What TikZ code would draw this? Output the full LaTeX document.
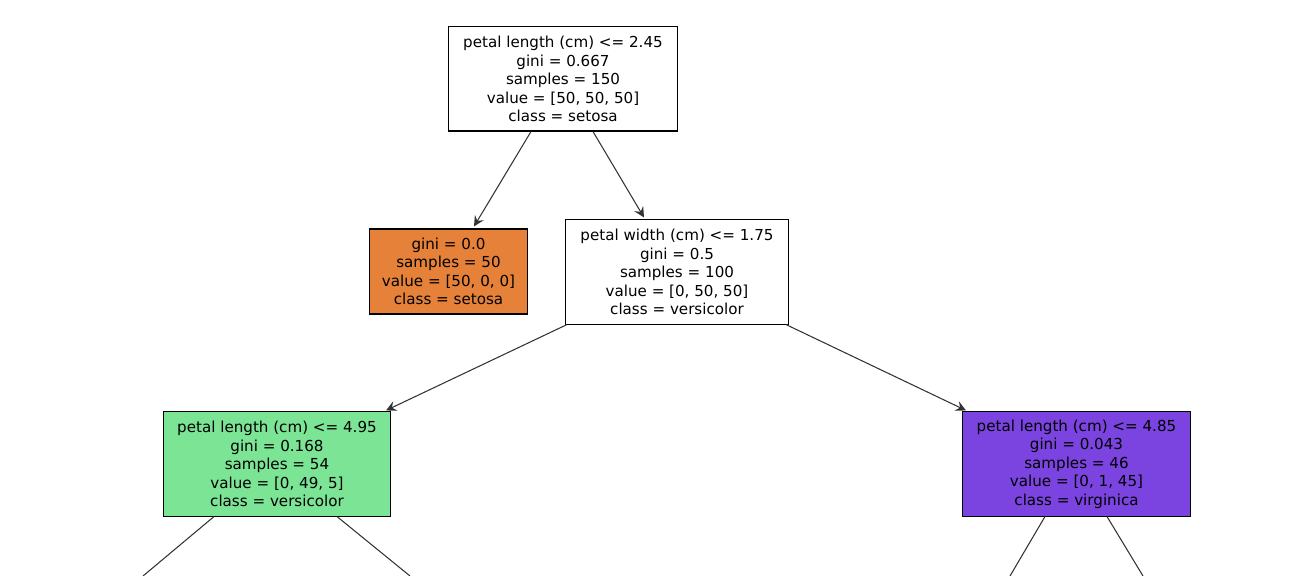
\documentclass[tikz,border=0pt]{standalone}
\usepackage{fontspec}
\setmainfont{DejaVu Sans}
\usetikzlibrary{calc}
\definecolor{setosa}{RGB}{229,129,57}
\definecolor{versi}{RGB}{123,228,149}
\definecolor{virgi}{RGB}{123,67,224}
\begin{document}
\begin{tikzpicture}[x=0.01cm,y=-0.01cm,
    box/.style={draw=black, line width=0.3pt, align=center, inner sep=0pt,
      font=\fontsize{4.3pt}{5.25pt}\selectfont},
    edge/.style={->, line width=0.3pt, draw=black!80, >=stealth}]
    \useasboundingbox (0,0) rectangle (1296,576);

    \node[box, minimum width=2.28cm, minimum height=1.04cm, fill=white] (root) at (563,79)
      {petal length (cm) <= 2.45\\gini = 0.667\\samples = 150\\value = [50, 50, 50]\\class = setosa};
    \node[box, minimum width=1.57cm, minimum height=0.85cm, fill=setosa] (leaf) at (448.5,271.5)
      {gini = 0.0\\samples = 50\\value = [50, 0, 0]\\class = setosa};
    \node[box, minimum width=2.22cm, minimum height=1.04cm, fill=white] (width) at (677,272)
      {petal width (cm) <= 1.75\\gini = 0.5\\samples = 100\\value = [0, 50, 50]\\class = versicolor};
    \node[box, minimum width=2.26cm, minimum height=1.04cm, fill=versi] (left) at (277,464)
      {petal length (cm) <= 4.95\\gini = 0.168\\samples = 54\\value = [0, 49, 5]\\class = versicolor};
    \node[box, minimum width=2.27cm, minimum height=1.04cm, fill=virgi] (right) at (1076.5,464)
      {petal length (cm) <= 4.85\\gini = 0.043\\samples = 46\\value = [0, 1, 45]\\class = virginica};

    % loose ends below the frame
    \coordinate (a) at (143,576);
    \coordinate (b) at (410,576);
    \coordinate (c) at (1010,576);
    \coordinate (d) at (1143,576);

    \draw[edge] ($(root.south)+(-32,0)$) -- ($(leaf.north)+(25.5,-2)$);
    \draw[edge] ($(root.south)+(30,0)$) -- ($(width.north)+(-33,-2)$);
    \draw[edge] ($(width.south)+(-110,0)$) -- ($(left.north)+(109,-1)$);
    \draw[edge] ($(width.south)+(109,0)$) -- ($(right.north)+(-110.5,-1)$);
    \draw[edge, -] ($(left.south)+(-63,0)$) -- (a);
    \draw[edge, -] ($(left.south)+(60,0)$) -- (b);
    \draw[edge, -] ($(right.south)+(-31.5,0)$) -- (c);
    \draw[edge, -] ($(right.south)+(30.5,0)$) -- (d);
\end{tikzpicture}
\end{document}
